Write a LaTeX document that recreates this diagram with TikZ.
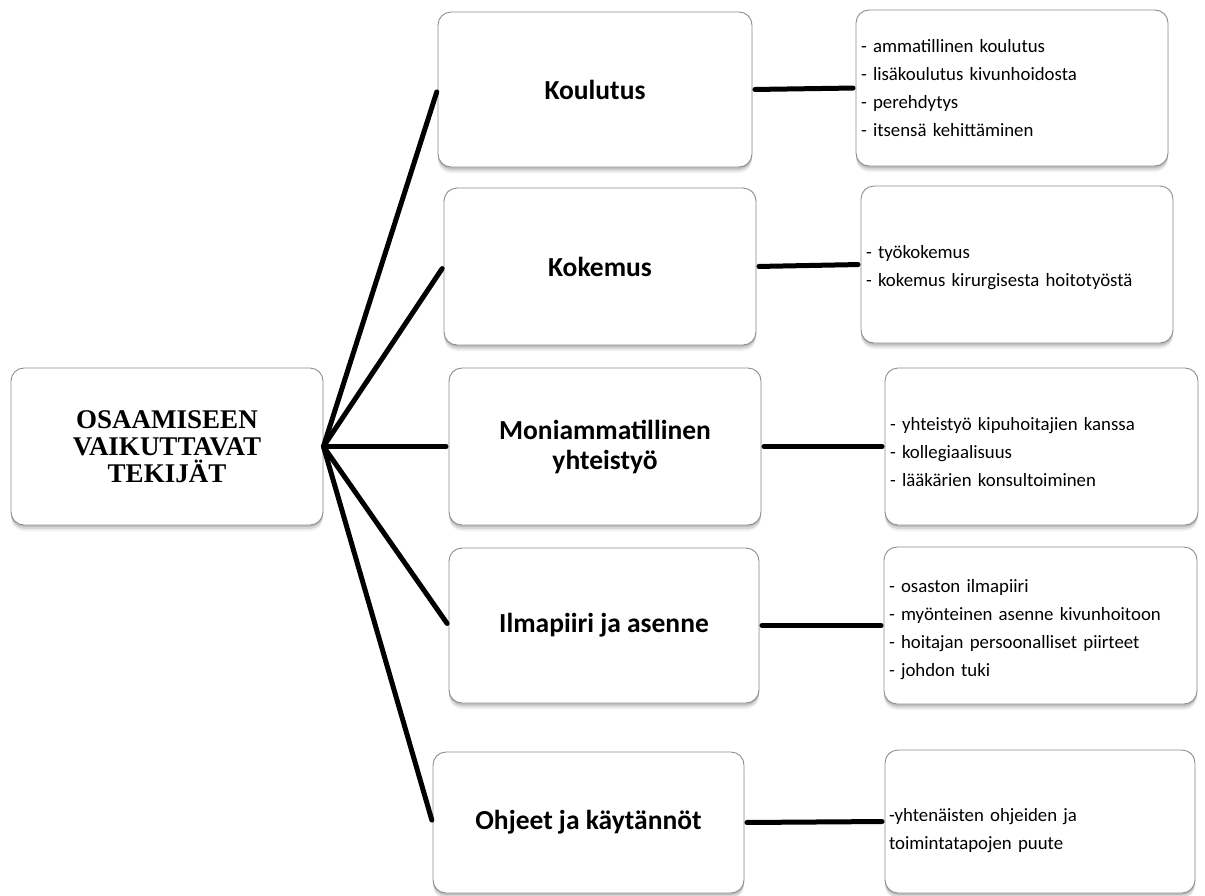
\documentclass[tikz,border=0pt]{standalone}
\usepackage{fontspec}
\setmainfont{Carlito}
\newfontfamily\titlefont{Liberation Serif}
\usetikzlibrary{shadows}
\tikzset{
  box/.style={draw=black!45, line width=0.9pt, rounded corners=13pt, fill=white,
    general shadow={shadow yshift=-2pt, opacity=0.12, fill=black},
    general shadow={shadow yshift=-4pt, opacity=0.10, fill=black},
    general shadow={shadow yshift=-6pt, opacity=0.06, fill=black},
    inner sep=0pt},
  mid/.style={box, font=\fontsize{27.5}{30}\selectfont\bfseries, align=center},
  detail/.style={box, font=\fontsize{18.8}{28}\selectfont, align=left},
  conn/.style={line width=5pt, line cap=round, shorten >=2.5pt},
}
\begin{document}
\begin{tikzpicture}[x=1pt,y=-1pt]
\useasboundingbox (0,0) rectangle (1205,895);
% left main box
\node[box, minimum width=312pt, minimum height=157pt, align=center,
  font=\titlefont\fontsize{27}{27}\selectfont\bfseries] (L) at (167,446.5)
  {OSAAMISEEN\\VAIKUTTAVAT\\TEKIJÄT};
% middle boxes
\node[mid, minimum width=314pt, minimum height=155pt] (M1) at (595,89.5) {Koulutus};
\node[mid, minimum width=312pt, minimum height=157pt] (M2) at (600,266.5) {Kokemus};
\node[mid, minimum width=312pt, minimum height=157pt] (M3) at (605,446.5) {Moniammatillinen\\yhteistyö};
\node[mid, minimum width=310pt, minimum height=155pt] (M4) at (604,625.5) {Ilmapiiri ja asenne};
\node[mid, minimum width=311pt, minimum height=141pt] (M5) at (588.5,822.5) {Ohjeet ja käytännöt};
% right boxes
\node[detail, minimum width=312pt, minimum height=156pt, text width=302pt] (R1) at (1012,88)
  {- ammatillinen koulutus\\- lisäkoulutus kivunhoidosta\\- perehdytys\\- itsensä kehittäminen};
\node[detail, minimum width=312pt, minimum height=157pt, text width=302pt] (R2) at (1017,264.5)
  {\rule{0pt}{20pt}- työkokemus\\- kokemus kirurgisesta hoitotyöstä};
\node[detail, minimum width=313pt, minimum height=157pt, text width=303pt] (R3) at (1041.5,446.5)
  {\rule{0pt}{24pt}- yhteistyö kipuhoitajien kanssa\\- kollegiaalisuus\\- lääkärien konsultoiminen};
\node[detail, minimum width=313pt, minimum height=157pt, text width=303pt] (R4) at (1040.5,625.5)
  {\rule{0pt}{22pt}- osaston ilmapiiri\\- myönteinen asenne kivunhoitoon\\- hoitajan persoonalliset piirteet\\- johdon tuki};
\node[detail, minimum width=310pt, minimum height=143pt, text width=302pt] (R5) at (1040,821.5)
  {\rule{0pt}{32pt}-yhtenäisten ohjeiden ja\\toimintatapojen puute};
% connectors
\foreach \m in {M1,M2,M3,M4,M5} \draw[conn] (L.east) -- (\m.west);
\draw[conn, shorten <=2.5pt] (M1.east) -- (R1.west);
\draw[conn, shorten <=2.5pt] (M2.east) -- (R2.west);
\draw[conn, shorten <=2.5pt] (M3.east) -- (R3.west);
\draw[conn, shorten <=2.5pt] (M4.east) -- (R4.west);
\draw[conn, shorten <=2.5pt] (M5.east) -- (R5.west);
\end{tikzpicture}
\end{document}
